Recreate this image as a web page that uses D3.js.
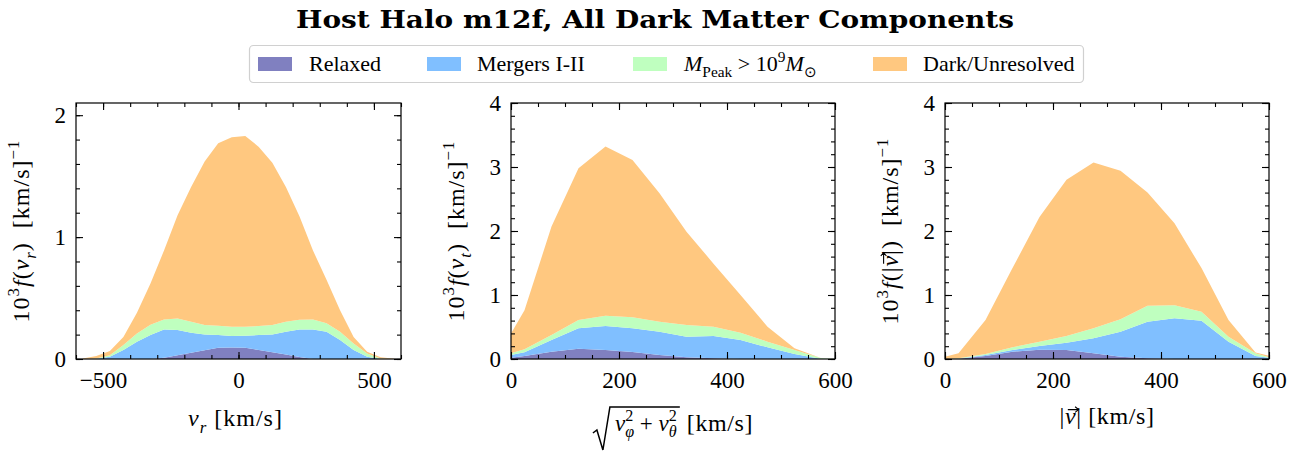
<!DOCTYPE html>
<html><head><meta charset="utf-8">
<script src="https://cdn.jsdelivr.net/npm/d3@7"></script>
<style>
body{margin:0;background:#fff}
</style>
</head><body>
<svg id="c" width="1307" height="457"></svg>
<script>
// ---------------- data ----------------
const keys = ["Relaxed", "Mergers I-II", "Peak", "Dark/Unresolved"];
const colors = ["#8080c0", "#80bfff", "#bfffbf", "#ffc880"];

// panel 1: radial velocity bins (km/s)
const vrBins = [-575,-525,-475,-425,-375,-325,-275,-225,-175,-125,-75,-25,25,75,125,175,225,275,325,375,425,475,525,575];
const relaxedVr = [0,0,0,0,0,0,0.01,0.03,0.052,0.071,0.093,0.095,0.093,0.074,0.055,0.036,0.016,0,0,0,0,0,0,0];
const mergersVr = [0,0.003,0.019,0.074,0.142,0.197,0.233,0.208,0.164,0.131,0.104,0.094,0.098,0.123,0.147,0.188,0.227,0.243,0.224,0.156,0.074,0.019,0,0];
const peakVr    = [0,0.002,0.011,0.041,0.068,0.083,0.082,0.095,0.09,0.077,0.076,0.076,0.074,0.073,0.077,0.082,0.079,0.082,0.069,0.068,0.054,0.027,0.005,0];
const darkVr    = [0.005,0.02,0.035,0.065,0.17,0.34,0.565,0.847,1.104,1.341,1.497,1.555,1.565,1.47,1.331,1.104,0.848,0.565,0.357,0.176,0.052,0.014,0.01,0.003];

// panel 2: tangential velocity bins (km/s)
const vtBins = [0,25,75,125,175,225,275,325,375,425,475,525,575,600];
const relaxedVt = [0.021,0.047,0.115,0.161,0.141,0.109,0.063,0.026,0.01,0,0,0,0,0];
const mergersVt = [0.042,0.057,0.182,0.318,0.375,0.37,0.364,0.323,0.349,0.297,0.182,0.078,0,0];
const peakVt    = [0.026,0.047,0.078,0.13,0.161,0.172,0.156,0.182,0.146,0.114,0.089,0.063,0.01,0];
const darkVt    = [0.311,0.609,1.695,2.371,2.643,2.459,2.007,1.459,0.985,0.589,0.234,0.026,0.002,0];

// panel 3: speed bins (km/s)
const vBins = [0,25,75,125,175,225,275,325,375,425,475,525,575,600];
const relaxedV = [0,0.005,0.047,0.115,0.146,0.141,0.089,0.036,0.01,0,0,0,0,0];
const mergersV = [0,0,0.016,0.026,0.057,0.114,0.234,0.391,0.573,0.635,0.599,0.271,0.047,0.021];
const peakV    = [0,0.005,0.015,0.041,0.068,0.104,0.156,0.193,0.25,0.204,0.141,0.078,0.042,0.005];
const darkV    = [0.036,0.08,0.532,1.238,1.949,2.441,2.591,2.32,1.767,1.281,0.68,0.261,0.011,0.024];

// tick labels
const xTicks1 = [-500, 0, 500];
const xTicks23 = [0, 200, 400, 600];
const yTicks1 = [0, 1, 2];
const yTicks23 = [0, 1, 2, 3, 4];

// ---------------- layout ----------------
const FONT = "'Liberation Serif', 'Times New Roman', serif";
const svg = d3.select("#c").style("font-family", FONT);
const TOP = 103, BOT = 359;
const FS = 23, LFS = 24;
const SP = "\u00A0";

function rich(t, parts, size) {
  let shift = 0;
  parts.forEach(p => {
    const target = p.sup ? -0.42 * size : (p.sub ? 0.28 * size : 0);
    const ts = t.append("tspan").text(p.t)
      .attr("dy", (target - shift).toFixed(2))
      .attr("font-size", (p.sup || p.sub) ? size * 0.7 : size);
    if (p.dx) ts.attr("dx", p.dx);
    if (p.it) ts.attr("font-style", "italic");
    shift = target;
  });
}
function charIndex(parts, k) {
  let n = 0;
  for (let i = 0; i < k; i++) n += parts[i].t.length;
  return n;
}
function vecArrow(g, textNode, idx, size) {
  const st = textNode.getStartPositionOfChar(idx);
  const en = textNode.getEndPositionOfChar(idx);
  const x0 = st.x + 0.12 * size, x1 = en.x + 0.1 * size;
  const yy = st.y - 0.6 * size;
  g.append("path").attr("fill", "none").attr("stroke", "#000").attr("stroke-width", 1.1)
    .attr("d", `M${x0},${yy} L${x1},${yy} M${x1 - 3.5},${yy - 2.8} L${x1},${yy} L${x1 - 3.5},${yy + 2.8}`);
}

// title
svg.append("text").attr("x", 655).attr("y", 28).attr("text-anchor", "middle")
  .attr("font-size", 25).attr("font-weight", "bold")
  .style("font-family", "'DejaVu Serif', serif")
  .attr("textLength", 718).attr("lengthAdjust", "spacingAndGlyphs")
  .text("Host Halo m12f, All Dark Matter Components");

// legend
const lg = svg.append("g");
lg.append("rect").attr("x", 249.5).attr("y", 45.5).attr("width", 834).attr("height", 37)
  .attr("rx", 4).attr("fill", "#fff").attr("stroke", "#d0d0d0").attr("stroke-width", 1.2);
const swX = [258, 427, 633, 873];
const txX = [309, 477, 684, 923];
const legParts = [
  [{t: "Relaxed"}],
  [{t: "Mergers I-II"}],
  [{t: "M", it: true}, {t: "Peak", sub: true}, {t: SP + ">" + SP + "10"}, {t: "9", sup: true}, {t: "M", it: true}, {t: "\u2299", sub: true}],
  [{t: "Dark/Unresolved"}]
];
keys.forEach((k, i) => {
  lg.append("rect").attr("x", swX[i]).attr("y", 57).attr("width", 34).attr("height", 14).attr("fill", colors[i]);
  const t = lg.append("text").attr("x", txX[i]).attr("y", 71).attr("font-size", 22);
  rich(t, legParts[i], 22);
});

const ylab12 = sub => [{t: "10"}, {t: "3", sup: true}, {t: "f", it: true}, {t: "("}, {t: "v", it: true}, {t: sub, sub: true, it: true}, {t: ")" + SP + SP + "[km/s]"}, {t: "\u22121", sup: true}];
const ylab3 = [{t: "10"}, {t: "3", sup: true}, {t: "f", it: true}, {t: "(|"}, {t: "v", it: true}, {t: "|)" + SP + SP + "[km/s]"}, {t: "\u22121", sup: true}];

const panels = [
  {x0: 76, x1: 401, xDomain: [-600, 600], yDomain: [0, 2.1], xTicks: xTicks1, xMinor: d3.range(-600, 601, 100),
   yTicks: yTicks1, yMinor: d3.range(0, 2.01, 0.2), bins: vrBins, s: [relaxedVr, mergersVr, peakVr, darkVr],
   ylx: 29, ylab: ylab12("r"), vecPart: -1},
  {x0: 511, x1: 835, xDomain: [0, 600], yDomain: [0, 4], xTicks: xTicks23, xMinor: d3.range(0, 601, 50),
   yTicks: yTicks23, yMinor: d3.range(0, 4.01, 0.2), bins: vtBins, s: [relaxedVt, mergersVt, peakVt, darkVt],
   ylx: 464, ylab: ylab12("t"), vecPart: -1},
  {x0: 945, x1: 1269, xDomain: [0, 600], yDomain: [0, 4], xTicks: xTicks23, xMinor: d3.range(0, 601, 50),
   yTicks: yTicks23, yMinor: d3.range(0, 4.01, 0.2), bins: vBins, s: [relaxedV, mergersV, peakV, darkV],
   ylx: 898, ylab: ylab3, vecPart: 4}
];

function styleAxis(g, labels) {
  g.select(".domain").remove();
  g.selectAll("line").attr("stroke", "#000").attr("stroke-width", 1.1);
  g.attr("font-family", null).attr("font-size", null);
  g.selectAll("text").attr("font-size", FS).style("font-family", FONT);
  if (!labels) g.selectAll("text").remove();
}

panels.forEach((p, pi) => {
  const x = d3.scaleLinear().domain(p.xDomain).range([p.x0, p.x1]);
  const y = d3.scaleLinear().domain(p.yDomain).range([BOT, TOP]);
  const rows = p.bins.map((b, i) => {
    const r = {v: b};
    keys.forEach((k, j) => r[k] = p.s[j][i]);
    return r;
  });
  const stacked = d3.stack().keys(keys)(rows);
  const area = d3.area().x(d => x(d.data.v)).y0(d => y(d[0])).y1(d => y(d[1]));
  const cid = "clip" + pi;
  svg.append("clipPath").attr("id", cid).append("rect")
    .attr("x", p.x0).attr("y", TOP).attr("width", p.x1 - p.x0).attr("height", BOT - TOP);
  svg.append("g").attr("clip-path", `url(#${cid})`)
    .selectAll("path").data(stacked).join("path")
    .attr("d", area).attr("fill", (d, i) => colors[i]);

  const fmt = d3.format("d");
  svg.append("g").attr("transform", `translate(0,${BOT})`)
    .call(d3.axisBottom(x).tickValues(p.xMinor).tickSize(-4).tickFormat("")).call(g => styleAxis(g, false));
  svg.append("g").attr("transform", `translate(0,${BOT})`)
    .call(d3.axisBottom(x).tickValues(p.xTicks).tickSize(-7).tickPadding(13).tickFormat(fmt)).call(g => styleAxis(g, true));
  svg.append("g").attr("transform", `translate(0,${TOP})`)
    .call(d3.axisTop(x).tickValues(p.xMinor).tickSize(-4).tickFormat("")).call(g => styleAxis(g, false));
  svg.append("g").attr("transform", `translate(0,${TOP})`)
    .call(d3.axisTop(x).tickValues(p.xTicks).tickSize(-7).tickFormat("")).call(g => styleAxis(g, false));
  svg.append("g").attr("transform", `translate(${p.x0},0)`)
    .call(d3.axisLeft(y).tickValues(p.yMinor).tickSize(-4).tickFormat("")).call(g => styleAxis(g, false));
  svg.append("g").attr("transform", `translate(${p.x0},0)`)
    .call(d3.axisLeft(y).tickValues(p.yTicks).tickSize(-7).tickPadding(10).tickFormat(fmt)).call(g => styleAxis(g, true));
  svg.append("g").attr("transform", `translate(${p.x1},0)`)
    .call(d3.axisRight(y).tickValues(p.yMinor).tickSize(-4).tickFormat("")).call(g => styleAxis(g, false));
  svg.append("g").attr("transform", `translate(${p.x1},0)`)
    .call(d3.axisRight(y).tickValues(p.yTicks).tickSize(-7).tickFormat("")).call(g => styleAxis(g, false));

  svg.append("rect").attr("x", p.x0).attr("y", TOP).attr("width", p.x1 - p.x0).attr("height", BOT - TOP)
    .attr("fill", "none").attr("stroke", "#000").attr("stroke-width", 1.2);

  // y label
  const yg = svg.append("g").attr("transform", `translate(${p.ylx},${(TOP + BOT) / 2}) rotate(-90)`);
  const yl = yg.append("text").attr("text-anchor", "middle").attr("font-size", LFS)
    .attr("letter-spacing", 1).style("font-family", FONT);
  rich(yl, p.ylab, LFS);
  if (p.vecPart >= 0) vecArrow(yg, yl.node(), charIndex(p.ylab, p.vecPart), LFS);

  // x label
  const cx = (p.x0 + p.x1) / 2;
  if (pi === 0) {
    const t = svg.append("text").attr("x", cx - 3).attr("y", 426).attr("text-anchor", "middle")
      .attr("font-size", LFS).attr("letter-spacing", 1).style("font-family", FONT);
    rich(t, [{t: "v", it: true}, {t: "r", sub: true, it: true}, {t: SP + "[km/s]"}], LFS);
  } else if (pi === 2) {
    const parts = [{t: "|"}, {t: "v", it: true}, {t: "|" + SP + "[km/s]"}];
    const g = svg.append("g");
    const t = g.append("text").attr("x", cx).attr("y", 424).attr("text-anchor", "middle")
      .attr("font-size", LFS).attr("letter-spacing", 0.6).style("font-family", FONT);
    rich(t, parts, LFS);
    vecArrow(g, t.node(), 1, LFS);
  } else {
    const g = svg.append("g");
    const inner = g.append("text").attr("x", 0).attr("y", 431).attr("font-size", FS).style("font-family", FONT);
    rich(inner, [{t: "v", it: true}, {t: "2", sup: true}, {t: "\u03C6", sub: true, it: true, dx: -8},
                 {t: SP + "+" + SP}, {t: "v", it: true}, {t: "2", sup: true}, {t: "\u03B8", sub: true, it: true, dx: -8}], FS);
    const w = inner.node().getBBox().width;
    const unit = g.append("text").attr("y", 431).attr("font-size", LFS).attr("letter-spacing", 0.6)
      .style("font-family", FONT).text("[km/s]");
    const uw = unit.node().getBBox().width;
    const radW = 20;
    const total = radW + w + 12 + uw;
    const sx = cx - total / 2;
    inner.attr("x", sx + radW + 2);
    unit.attr("x", sx + radW + w + 12);
    g.append("path").attr("fill", "none").attr("stroke", "#000").attr("stroke-width", 1.5)
      .attr("d", `M${sx},${433} L${sx + 4},${430} L${sx + 10},${450} L${sx + 17},${407} L${sx + radW + w + 5},${407}`);
  }
});
svg.selectAll("text").filter(function() { return !this.style.fontFamily; }).style("font-family", FONT);
</script>
</body></html>
